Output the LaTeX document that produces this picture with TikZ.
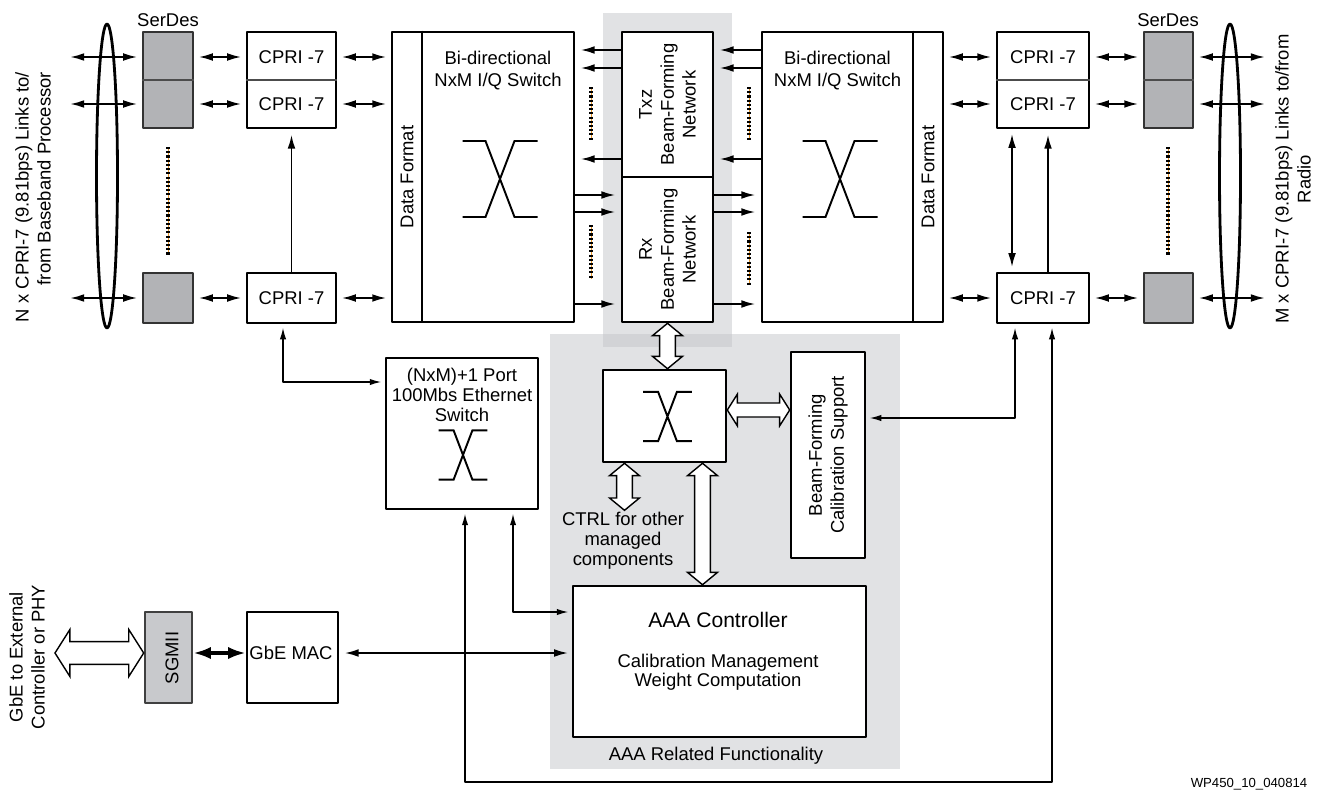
\documentclass[tikz,border=0pt]{standalone}
\usepackage{fontspec}
\setmainfont{Liberation Sans}
\usetikzlibrary{arrows.meta,calc}
\usetikzlibrary{positioning}
\definecolor{serdesgray}{RGB}{178,179,182}
\definecolor{sgmiigray}{RGB}{200,201,204}
\definecolor{aaagray}{RGB}{225,226,228}
\definecolor{aaadark}{RGB}{210,211,214}
\definecolor{dotorange}{RGB}{232,150,40}
\tikzset{blk/.style={draw,line width=1.5pt,fill=white,inner sep=0pt,align=center},
  sdes/.style={blk,draw=black!80,fill=serdesgray},
  lnk/.style={line width=1.1pt,<->,shorten <=2.5pt,shorten >=2.5pt},
  one/.style={line width=1.1pt,->,shorten >=3pt},
  wire/.style={line width=0.7pt,<->,>={Latex[length=6.5pt,width=3.6pt]},shorten <=2pt,shorten >=2pt},
  fat/.style={line width=0.8pt,fill=white,line join=miter},
  dotline/.style={line width=2pt,dash pattern=on 1.2pt off 1.2pt,preaction={draw=dotorange,solid}},
  xsw/.pic={\draw[line width=1.1pt,line join=miter] (-37.5,-38) -- (-14.5,-38) -- (14.5,38) -- (37.5,38) (-37.5,38) -- (-14.5,38) -- (14.5,-38) -- (37.5,-38);}}
% outline arrow: from, to, shaft half width, head half width, head length
\newcommand{\fatarrow}[5]{%
  \coordinate (fa1) at ($(#1)!#5!(#2)$);
  \coordinate (fa2) at ($(#2)!#5!(#1)$);
  \draw[fat] (#1) -- ($(fa1)!#4!90:(#2)$) -- ($(fa1)!#3!90:(#2)$) -- ($(fa2)!#3!-90:(#1)$) -- ($(fa2)!#4!-90:(#1)$) -- (#2)
    -- ($(fa2)!#4!90:(#1)$) -- ($(fa2)!#3!90:(#1)$) -- ($(fa1)!#3!-90:(#2)$) -- ($(fa1)!#4!-90:(#2)$) -- cycle;}

\begin{document}
\begin{tikzpicture}[x=0.02cm,y=-0.02cm,>={Latex[length=8pt,width=4.4pt]},line join=round,font=\fontsize{10.5}{12.5}\selectfont]
\useasboundingbox (0,0) rectangle (1325,791);
% --- shaded areas
\fill[aaagray] (550,334) rectangle (900,769);
\fill[aaagray] (603,13) rectangle (732,347);
\fill[aaadark] (603,334) rectangle (732,347);

% --- left CPRI side
\node[sdes,minimum width=1cm,minimum height=1.92cm] (serL1) at (168,80) {};
\draw[black!70,line width=0.6pt] (serL1.west) -- (serL1.east);
\node[sdes,minimum width=1cm,minimum height=1cm] (serL2) at (168,298) {};
\node at (168,20) {SerDes};
\draw[dotline] (168,147) -- (168,255);
\draw[line width=1.6pt] (107,176) ellipse [x radius=10.5,y radius=152];
\node[rotate=90,align=right] at (33,197) {N x CPRI-7 (9.81bps) Links to/\\from Baseband Processor};
\node[blk,minimum width=1.78cm,minimum height=1.92cm] (cpriL1) at (291.5,80) {};
\draw[black!70,line width=0.6pt] (cpriL1.west) -- (cpriL1.east);
\node at ($(cpriL1.center)+(0,-23)$) {CPRI -7};
\node at ($(cpriL1.center)+(0,24)$) {CPRI -7};
\node[blk,minimum width=1.78cm,minimum height=1cm] (cpriL2) at (291.5,298) {CPRI -7};
\draw[one] (cpriL2.north) -- (cpriL1.south);

% --- left switch
\node[blk,minimum width=3.64cm,minimum height=5.8cm] (swL) at (483,177) {};
\draw[line width=0.8pt] (422,0 |- swL.north) -- (422,0 |- swL.south);
\node[rotate=90] at (407,177) {Data Format};
\node[align=center] at (498,71) {Bi-directional\\NxM I/Q Switch};
\pic at (500,179) {xsw};

% --- beam-forming networks
\node[blk,minimum width=1.82cm,minimum height=2.9cm] (tx) at (667.5,104.5) {};
\node[blk,minimum width=1.82cm,minimum height=2.9cm] (rx) at (667.5,249.5) {};
\node[rotate=90,align=center] at (tx.center) {Txz\\Beam-Forming\\Network};
\node[rotate=90,align=center] at (rx.center) {Rx\\Beam-Forming\\Network};

% --- right switch
\node[blk,minimum width=3.62cm,minimum height=5.8cm] (swR) at (852.5,177) {};
\draw[line width=0.8pt] (913,0 |- swR.north) -- (913,0 |- swR.south);
\node[rotate=90] at (928,177) {Data Format};
\node[align=center] at (837.5,71) {Bi-directional\\NxM I/Q Switch};
\pic at (840,179) {xsw};

% --- right CPRI side
\node[blk,minimum width=1.84cm,minimum height=1.92cm] (cpriR1) at (1043,80) {};
\draw[black!70,line width=0.6pt] (cpriR1.west) -- (cpriR1.east);
\node at ($(cpriR1.center)+(0,-23)$) {CPRI -7};
\node at ($(cpriR1.center)+(0,24)$) {CPRI -7};
\node[blk,minimum width=1.84cm,minimum height=1cm] (cpriR2) at (1043,298) {CPRI -7};
\draw[lnk] (cpriR1.south -| 1012,0) -- (cpriR2.north -| 1012,0);
\draw[one] (cpriR2.north -| 1048,0) -- (cpriR1.south -| 1048,0);
\node[sdes,minimum width=0.98cm,minimum height=1.92cm] (serR1) at (1168.5,80) {};
\draw[black!70,line width=0.6pt] (serR1.west) -- (serR1.east);
\node[sdes,minimum width=0.98cm,minimum height=1cm] (serR2) at (1168.5,298) {};
\node at (1168,20) {SerDes};
\draw[dotline] (1168,147) -- (1168,255);
\draw[line width=1.6pt] (1230,176) ellipse [x radius=10.5,y radius=152];
\node[rotate=90,align=center] at (1293,179) {M x CPRI-7 (9.81bps) Links to/from\\Radio};

% --- link arrows of the top row
\foreach \y in {57,104,298} {
  \draw[line width=1.1pt,<->,shorten >=2.5pt] (70,\y) -- (serL1.west |- 0,\y);
  \draw[lnk] (serL1.east |- 0,\y) -- (cpriL1.west |- 0,\y);
  \draw[lnk] (cpriL1.east |- 0,\y) -- (swL.west |- 0,\y);
  \draw[lnk] (swR.east |- 0,\y) -- (cpriR1.west |- 0,\y);
  \draw[lnk] (cpriR1.east |- 0,\y) -- (serR1.west |- 0,\y);
  \draw[line width=1.1pt,<->,shorten <=2.5pt] (serR1.east |- 0,\y) -- (1265,\y);
}
\foreach \y in {50,68,159} {
  \draw[one] (tx.west |- 0,\y) -- (swL.east |- 0,\y);
  \draw[one] (swR.west |- 0,\y) -- (tx.east |- 0,\y);
}
\foreach \y in {195,212,304} {
  \draw[one] (swL.east |- 0,\y) -- (rx.west |- 0,\y);
  \draw[one] (rx.east |- 0,\y) -- (swR.west |- 0,\y);
}
\draw[dotline] (591,87) -- (591,140);
\draw[dotline] (591,225) -- (591,279);
\draw[dotline] (749,87) -- (749,140);
\draw[dotline] (749,232) -- (749,285);

% --- management part
\node[blk,minimum width=3.04cm,minimum height=3.02cm] (eth) at (462,433.5) {};
\node[align=center,font=\fontsize{10.5}{11.4}\selectfont] at (462,395) {(NxM)+1 Port\\100Mbs Ethernet\\Switch};
\pic[scale=0.65] at (463,455) {xsw};
\node[blk,minimum width=2.46cm,minimum height=1.84cm] (sw) at (664.5,416) {};
\pic[scale=0.65] at (667.5,416.5) {xsw};
\node[blk,minimum width=1.48cm,minimum height=4.12cm] (cal) at (828,455) {};
\node[rotate=90,align=center] at (cal.center) {Beam-Forming\\Calibration Support};
\node[blk,minimum width=5.86cm,minimum height=3.02cm] (aaa) at (719.5,661.5) {};
\node[font=\fontsize{12}{14}\selectfont] at (718,620) {AAA Controller};
\node[align=center,font=\fontsize{10.5}{11}\selectfont] at (718,672) {Calibration Management\\Weight Computation};
\node at (716,756) {AAA Related Functionality};
\node[align=center,font=\fontsize{10.5}{11.4}\selectfont] at (623,541) {CTRL for other\\managed\\components};

\coordinate (rxdown) at (rx.south);
\coordinate (swup) at (rx.south |- sw.north);
\fatarrow{rxdown}{swup}{4.5pt}{8.5pt}{7pt}
\coordinate (swcal) at ($(sw.east)+(0,-6)$);
\coordinate (calin) at (cal.west |- swcal);
\fatarrow{swcal}{calin}{4pt}{9pt}{5.7pt}
\coordinate (ctrltop) at ($(sw.south)+(-40,0)$);
\coordinate (ctrlbot) at ($(ctrltop)+(0,47)$);
\fatarrow{ctrltop}{ctrlbot}{4.5pt}{8.5pt}{7pt}
\coordinate (aaatop) at ($(sw.south)+(38,0)$);
\coordinate (aaain) at (aaatop |- aaa.north);
\fatarrow{aaatop}{aaain}{4.5pt}{8.5pt}{7pt}

% --- GbE path
\node[blk,draw=black!75,fill=sgmiigray,minimum width=0.94cm,minimum height=1.82cm] (sgmii) at (168.5,657.5) {};
\node[rotate=90] at (172,658) {SGMII};
\node[blk,minimum width=1.82cm,minimum height=1.82cm] (mac) at (292.5,657.5) {};
\node at (291,653) {GbE MAC};
\node[rotate=90,align=center] at (27,657) {GbE to External\\Controller or PHY};
\coordinate (gbeext) at (55,653);
\coordinate (sgmiiin) at (sgmii.west |- gbeext);
\fatarrow{gbeext}{sgmiiin}{6.5pt}{13.4pt}{8.5pt}
\draw[line width=1.9pt,<->,>={Latex[length=10pt,width=7pt]}] (sgmii.east |- gbeext) -- (mac.west |- gbeext);
\draw[line width=1.1pt,<->,shorten <=3pt,shorten >=2pt] (mac.east |- gbeext) -- (aaa.west |- gbeext);

% --- control wires
\coordinate (loopbot) at (0,782);
\coordinate (cpriRcal) at ($(cpriR2.south)+(-28,0)$);
\coordinate (cpriRloop) at ($(cpriR2.south)+(9,0)$);
\coordinate (ethloop) at ($(eth.south)+(3,0)$);
\coordinate (ethaaa) at ($(eth.south)+(51,0)$);
\draw[wire] ($(cpriL2.south)+(-8.5,0)$) |- ($(eth.west)+(0,-51.5)$);
\draw[wire] (cpriRcal) |- ($(cal.east)+(0,-37)$);
\draw[wire] (cpriRloop) -- (cpriRloop |- loopbot) -| (ethloop);
\draw[wire] (ethaaa) |- ($(aaa.west)+(0,-49.5)$);

\node[font=\fontsize{7.5}{9}\selectfont] at (1249,784) {WP450\_10\_040814};
\end{tikzpicture}
\end{document}
